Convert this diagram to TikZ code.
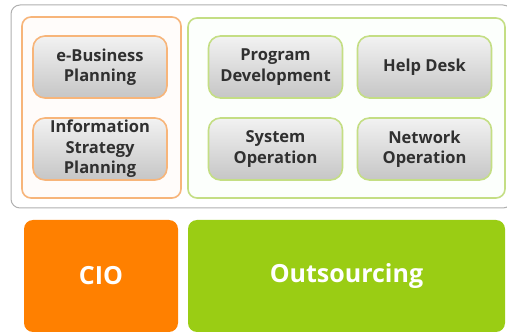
\documentclass[tikz,border=0pt]{standalone}
\usepackage{fontspec}
\setmainfont{Open Sans}
\usepackage{tikz}
\usetikzlibrary{positioning,shapes,fit}
\usetikzlibrary{calc}

\definecolor{cioorange}{HTML}{FF8000}
\definecolor{outgreen}{HTML}{9ACD14}
\definecolor{paleorange}{HTML}{F7B57A}
\definecolor{palegreen}{HTML}{C4DE84}
\definecolor{framegray}{HTML}{B0B0B0}
\definecolor{textgray}{HTML}{303030}

\begin{document}
\begin{tikzpicture}[x=1pt,y=-1pt]
		\tikzset{
			panel/.style={rounded corners=9pt,line width=1.6pt,fill=white,inner sep=0pt},
			taskbox/.style={rounded corners=12pt,line width=1.6pt,top color=gray!10,bottom color=gray!45,
				minimum width=134pt,minimum height=62pt,inner sep=0pt,align=center,
				text=textgray,font=\bfseries\fontsize{16.5}{20.5}\selectfont},
			rolebox/.style={rounded corners=9pt,minimum height=112pt,inner sep=0pt,
				text=white,font=\bfseries\fontsize{25}{28}\selectfont},
		}
		\useasboundingbox (0,0) rectangle (507,334);
		\node[panel,draw=framegray,line width=1pt,minimum width=501pt,minimum height=203pt] (frame) at (261.5,106.5) {};
		\node[panel,draw=paleorange,fill=orange!2,minimum width=159pt,minimum height=181pt] (cpanel) at (101.5,107.5) {};
		\node[panel,draw=palegreen,fill=green!1,minimum width=317pt,minimum height=180pt] (opanel) at (346.5,108) {};

		\node[taskbox,draw=paleorange] (ebiz) at (100,67) {e-Business\\Planning};
		\node[taskbox,draw=paleorange] (isp) at (100,149) {Information\\Strategy\\Planning};

		\node[taskbox,draw=palegreen] (progdev) at (275.5,67) {Program\\Development};
		\node[taskbox,draw=palegreen] (helpdesk) at (424.5,67) {Help Desk};
		\node[taskbox,draw=palegreen] (sysop) at (275.5,149) {System\\Operation};
		\node[taskbox,draw=palegreen] (netop) at (424.5,149) {Network\\Operation};

		\node[rolebox,fill=cioorange,minimum width=154pt] (cio) at (101,276) {CIO};
		\node[rolebox,fill=outgreen,minimum width=317pt] (outsrc) at (346.5,276) {Outsourcing};
	\end{tikzpicture}
\end{document}
